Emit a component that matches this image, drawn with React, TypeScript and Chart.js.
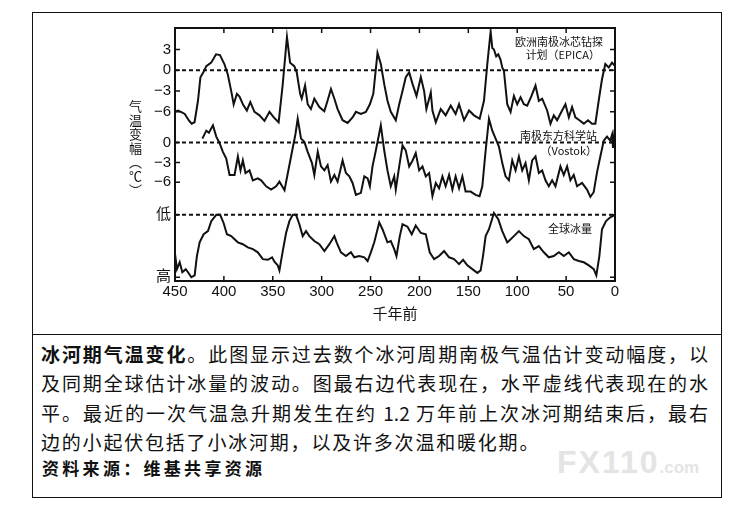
import React, { useEffect, useRef } from "react";
import { Chart, registerables } from "chart.js";

Chart.register(...registerables);

// ---- Data ----
const xTicks = [450, 400, 350, 300, 250, 200, 150, 100, 50, 0];
const epicaTicks = [3, 0, -3, -6];
const vostokTicks = [0, -3, -6];
const iceTickLabels = ["低", "高"];

// EPICA temperature anomaly (°C)
const epicaAge = [450, 447, 444, 440, 436, 433, 430, 426.5, 424, 421, 418, 413, 408, 404, 399.5, 396, 392.5, 390, 386.7, 384, 380.6, 376.5, 373, 368.7, 363.6, 358.5, 353.4, 349, 344, 339.8, 335.5, 332.3, 328, 325.5, 322, 320.4, 317, 314.3, 311, 307.5, 302.4, 297.3, 294, 290.5, 287, 283.7, 278.6, 273.5, 268.4, 265, 259.9, 254.8, 250.7, 247.2, 242.9, 239.5, 236, 232.7, 229.3, 224.2, 220.7, 217.3, 214, 210.5, 207, 203, 198.6, 195.2, 192.9, 188.4, 186.7, 183.3, 178.2, 173.2, 168, 163, 159.5, 154.4, 149.3, 144.2, 138.4, 134, 130.6, 127.2, 125.5, 123.8, 121.5, 119.4, 117, 115.3, 113.6, 110.2, 106.8, 103.4, 100, 96.6, 93.2, 89.8, 85.4, 81.3, 77.9, 74.5, 69.4, 66, 62.6, 59.2, 54.1, 50.7, 47.2, 43.9, 40.5, 36.4, 31.9, 27.6, 23.5, 20.1, 16.7, 13.3, 9.9, 6.4, 3.1, 0];
const epicaTemp = [-6.0, -5.8, -6.0, -6.3, -7.2, -7.7, -7.5, -4.4, -1.0, -0.3, 0.6, 1.1, 2.3, 2.2, 0.9, -0.6, -3.0, -4.9, -3.4, -3.8, -4.9, -5.8, -4.6, -6.0, -6.5, -7.3, -6.0, -6.8, -7.5, -2.0, 4.8, 1.1, 0.6, -0.3, -3.4, -4.1, -2.2, -4.9, -5.6, -4.1, -5.3, -5.9, -4.4, -2.7, -4.1, -5.6, -7.2, -7.6, -6.8, -6.0, -6.3, -6.0, -4.9, -3.4, 2.5, 0.9, -2.0, -4.4, -6.0, -7.2, -4.9, -3.0, -1.0, -0.3, -2.0, -3.7, -1.0, -3.0, -5.6, -3.2, -5.8, -7.5, -5.6, -6.5, -5.1, -6.3, -4.9, -7.2, -5.8, -6.5, -7.0, -4.4, 0.9, 5.6, 3.2, 3.0, 2.0, 2.3, 1.5, 0.4, -0.1, -4.9, -6.0, -3.7, -4.9, -3.9, -4.9, -5.1, -3.7, -2.2, -4.4, -4.1, -5.8, -7.7, -6.5, -7.2, -5.8, -4.9, -6.8, -5.3, -6.8, -7.2, -7.7, -7.2, -7.7, -7.7, -4.4, -1.3, 0.9, 0.4, 1.1, 0.6];

// Vostok temperature anomaly (°C)
const vostokAge = [422, 418, 415.3, 411.2, 407.8, 404.4, 401, 397.6, 394.2, 389.1, 385.7, 383, 380.6, 377.9, 373.8, 370.4, 365.3, 361.9, 356.8, 351.7, 346.6, 343.2, 338, 331.3, 326.8, 324.5, 321.1, 317.7, 314.3, 309.9, 307.5, 304, 300.7, 297.2, 293.9, 290.5, 287, 283.7, 278.6, 275.2, 271.7, 268.4, 265, 259.9, 256.4, 253, 250.7, 248, 244.6, 239.5, 236, 232.7, 229.3, 225.8, 224.2, 220.7, 217.3, 214, 210.5, 207, 203.8, 200.3, 196.9, 193.5, 190.1, 186.7, 183.3, 179.9, 176.5, 173.2, 169.7, 166.3, 163, 159.5, 156.1, 152.8, 147.7, 142.6, 138.5, 135.7, 132.3, 128.9, 125.5, 122.1, 118.7, 115.3, 111.9, 108.5, 105.1, 101.7, 98.3, 94.9, 91.5, 88.1, 84.7, 81.3, 77.9, 74.5, 71.1, 67.7, 64.3, 60.9, 55.8, 52.4, 49, 45.6, 42.2, 38.8, 33.7, 28.6, 25.2, 21.8, 18.4, 15, 11.5, 8.2, 4.8, 3, 2, 1, 0];
const vostokTemp = [0.6, 1.8, 1.5, 2.6, 0.9, -0.1, -1.4, -2.4, -4.9, -4.9, -2.1, -4.2, -2.7, -4.6, -4.2, -5.7, -5.4, -5.7, -6.6, -7.1, -6.6, -5.9, -7.2, -2.1, 1.3, 3.6, 0.6, 0.1, -1.4, -3.1, -4.9, -1.4, -3.6, -4.2, -3.4, -5.9, -4.9, -5.9, -2.7, -4.6, -5.1, -6.1, -7.9, -7.6, -5.1, -5.4, -6.6, -3.6, -1.2, 2.6, -1.2, -4.2, -6.6, -5.1, -7.1, -3.6, -0.4, -1.2, -3.6, -2.7, -1.6, -4.2, -3.6, -5.1, -4.6, -8.1, -6.1, -6.9, -5.1, -6.6, -4.9, -7.1, -5.1, -6.9, -5.1, -7.4, -7.4, -7.9, -8.1, -6.6, -1.2, 3.6, 1.8, 0.6, -0.6, -3.1, -5.1, -5.7, -2.7, -4.2, -2.1, -4.2, -3.1, -5.7, -2.7, -2.1, -4.6, -4.2, -5.7, -6.6, -5.7, -6.6, -3.6, -4.9, -3.6, -5.7, -4.9, -6.6, -6.1, -7.1, -8.2, -7.5, -4.5, -2.1, 0.3, 0.9, 0.3, 1.2, -0.8, 1.0, 0.2];

// Global ice volume (0 = low, 1 = high)
const iceAge = [450, 448, 445.2, 442.5, 439, 436.7, 433.3, 429.9, 427.6, 424.8, 420.7, 416.3, 412.9, 407.8, 403.8, 400.3, 396.9, 392.5, 389.1, 385.7, 380.6, 375.5, 370.4, 365.3, 360.2, 355.1, 350.7, 348.3, 344.9, 343.2, 339.8, 336.4, 333, 329.6, 326.2, 322.8, 319.4, 316, 312.6, 307.5, 302.4, 297.2, 292.1, 287, 284.7, 280.3, 275.2, 270.1, 266.7, 261.6, 256.4, 253, 249.7, 246.2, 241.1, 237.8, 232.7, 229.3, 225.8, 223.5, 220.1, 217.3, 212.2, 207.9, 203.8, 198.6, 193.5, 189.5, 185, 179.9, 174.8, 169.7, 164.6, 159.5, 155.4, 151, 145.9, 140.8, 137.4, 135, 132.3, 128.9, 123.8, 119.4, 115.3, 110.2, 108.5, 103.4, 98.3, 93.2, 88.1, 83, 77.9, 72.8, 67.7, 62.6, 57.4, 52.4, 47.2, 42.1, 37, 31.9, 26.8, 21.7, 19.1, 16, 13.3, 9.2, 4.8, 0];
const iceLevel = [0.62, 0.87, 0.76, 0.92, 0.87, 0.92, 1.0, 0.97, 0.66, 0.44, 0.31, 0.26, 0.1, 0.0, 0.0, 0.13, 0.31, 0.34, 0.39, 0.44, 0.47, 0.52, 0.55, 0.6, 0.71, 0.72, 0.68, 0.75, 0.81, 0.89, 0.58, 0.29, 0.1, 0.0, 0.0, 0.15, 0.34, 0.26, 0.34, 0.42, 0.47, 0.58, 0.47, 0.34, 0.44, 0.6, 0.66, 0.6, 0.68, 0.66, 0.68, 0.74, 0.6, 0.44, 0.12, 0.23, 0.44, 0.42, 0.55, 0.66, 0.34, 0.15, 0.19, 0.31, 0.17, 0.29, 0.31, 0.6, 0.71, 0.66, 0.58, 0.68, 0.71, 0.79, 0.72, 0.81, 0.87, 0.93, 0.89, 0.66, 0.34, 0.23, -0.03, 0.07, 0.26, 0.44, 0.42, 0.34, 0.26, 0.34, 0.39, 0.55, 0.5, 0.6, 0.68, 0.66, 0.6, 0.66, 0.6, 0.71, 0.74, 0.76, 0.81, 0.87, 0.97, 0.66, 0.23, 0.1, 0.04, 0.0];

// Present-day reference levels (dashed lines)
const presentLevels = { epica: 0, vostok: 0, ice: 0 };

// ---- Stacking of the three panels on one shared axis ----
const VOSTOK_SCALE = 0.955;
const VOSTOK_OFFSET = -10.43;
const ICE_TOP = -20.86;
const ICE_SPAN = 9.0;
const toEpica = (t: number) => t;
const toVostok = (t: number) => t * VOSTOK_SCALE + VOSTOK_OFFSET;
const toIce = (i: number) => ICE_TOP - i * ICE_SPAN;

const yTickValues = [
  ...epicaTicks.map(toEpica),
  ...vostokTicks.map(toVostok),
  toIce(0),
  toIce(1),
];
const yTickLabels = [
  ...epicaTicks.map((v) => (v < 0 ? "\u2212" + Math.abs(v) : String(v))),
  ...vostokTicks.map((v) => (v < 0 ? "\u2212" + Math.abs(v) : String(v))),
  ...iceTickLabels,
];

const frameTicks = {
  id: "frameTicks",
  afterDatasetsDraw(chart: any) {
    const { ctx, chartArea: a, scales } = chart;
    const x = scales.x;
    const y = scales.y;
    ctx.save();
    ctx.strokeStyle = "#111";
    ctx.lineWidth = 1.5;
    ctx.beginPath();
    for (const t of x.ticks) {
      const px = x.getPixelForValue(t.value);
      ctx.moveTo(px, a.bottom);
      ctx.lineTo(px, a.bottom - 5);
      ctx.moveTo(px, a.top);
      ctx.lineTo(px, a.top + 5);
    }
    for (const t of y.ticks) {
      const py = y.getPixelForValue(t.value);
      ctx.moveTo(a.left, py);
      ctx.lineTo(a.left + 5, py);
      ctx.moveTo(a.right, py);
      ctx.lineTo(a.right - 5, py);
    }
    ctx.stroke();
    ctx.lineWidth = 2;
    ctx.strokeRect(a.left, a.top, a.right - a.left, a.bottom - a.top);
    ctx.restore();
  },
};

function ChartCanvas() {
  const ref = useRef<HTMLCanvasElement | null>(null);
  useEffect(() => {
    if (!ref.current) return;
    const line = (ages: number[], vals: number[], map: (v: number) => number) =>
      ages.map((a, i) => ({ x: a, y: map(vals[i]) }));
    const dashed = (v: number) => ({
      data: [
        { x: 450, y: v },
        { x: 0, y: v },
      ],
      borderColor: "#111",
      borderWidth: 2,
      borderDash: [4, 3],
      pointRadius: 0,
    });
    const solid = (data: any[]) => ({
      data,
      borderColor: "#111",
      borderWidth: 2,
      pointRadius: 0,
      tension: 0,
    });
    const chart = new Chart(ref.current, {
      type: "line",
      data: {
        datasets: [
          dashed(toEpica(presentLevels.epica)),
          dashed(toVostok(presentLevels.vostok)),
          dashed(toIce(presentLevels.ice)),
          solid(line(epicaAge, epicaTemp, toEpica)),
          solid(line(vostokAge, vostokTemp, toVostok)),
          solid(line(iceAge, iceLevel, toIce)),
        ] as any,
      },
      options: {
        animation: false,
        responsive: true,
        maintainAspectRatio: false,
        layout: { padding: { top: 10, right: 25, bottom: 0, left: 0 } },
        plugins: { legend: { display: false }, tooltip: { enabled: false } },
        scales: {
          x: {
            type: "linear",
            min: 0,
            max: 450,
            reverse: true,
            afterBuildTicks: (s: any) => {
              s.ticks = xTicks.map((v) => ({ value: v }));
            },
            afterFit: (s: any) => {
              s.height = 49;
            },
            grid: { display: false, drawTicks: false },
            border: { display: false },
            ticks: {
              autoSkip: false,
              maxRotation: 0,
              padding: 2,
              color: "#111",
              font: { family: '"Liberation Sans", Arial, sans-serif', size: 15 },
            },
            title: {
              display: true,
              text: "千年前",
              color: "#111",
              font: { family: '"Noto Sans CJK SC", sans-serif', size: 15 },
              padding: { top: 0, bottom: 8 },
            },
          },
          y: {
            type: "linear",
            min: -30.4,
            max: 6.1,
            afterBuildTicks: (s: any) => {
              s.ticks = yTickValues.map((v) => ({ value: v }));
            },
            afterFit: (s: any) => {
              s.width = 75;
            },
            grid: { display: false, drawTicks: false },
            border: { display: false },
            ticks: {
              autoSkip: false,
              padding: 4,
              color: "#111",
              font: { family: '"Liberation Sans", "Noto Sans CJK SC", sans-serif', size: 15 },
              callback: (_v: any, i: number) => yTickLabels[i],
            },
          },
        },
      } as any,
      plugins: [frameTicks],
    });
    return () => chart.destroy();
  }, []);
  return <canvas ref={ref} />;
}

const abs = (s: React.CSSProperties): React.CSSProperties => ({ position: "absolute", ...s });

export default function App() {
  const cjk = '"Noto Sans CJK SC", sans-serif';
  const lineStyle = (top: number, justify: boolean): React.CSSProperties =>
    abs({
      left: 41,
      top,
      width: 667,
      fontSize: 19,
      lineHeight: "24px",
      whiteSpace: "nowrap",
      textAlign: justify ? "justify" : "left",
      textAlignLast: justify ? "justify" : "auto",
      letterSpacing: justify ? 0 : 1.8,
      color: "#111",
    } as React.CSSProperties);
  const note = (right: number, top: number): React.CSSProperties =>
    abs({ right, top, fontSize: 11, lineHeight: "13px", textAlign: "right", whiteSpace: "nowrap", color: "#111" });

  return (
    <div style={abs({ left: 0, top: 0, width: 741, height: 518, background: "#fff", fontFamily: cjk, overflow: "hidden" })}>
      <div style={abs({ left: 32, top: 12, width: 690, height: 486, border: "1.5px solid #111", boxSizing: "border-box" })} />
      <div style={abs({ left: 32, top: 334, width: 690, height: 0, borderTop: "1.5px solid #111" })} />
      <div style={abs({ left: 100, top: 15, width: 540, height: 315 })}>
        <ChartCanvas />
      </div>
      <div style={abs({ left: 128, top: 100, fontSize: 13, letterSpacing: 1, writingMode: "vertical-rl", color: "#111", lineHeight: "14px" } as React.CSSProperties)}>
        气温变幅（℃）
      </div>
      <div style={note(138, 35)}>欧洲南极冰芯钻探</div>
      <div style={note(141, 48)}>计划（EPICA）</div>
      <div style={note(144, 129)}>南极东方科学站</div>
      <div style={note(144, 144)}>（Vostok）</div>
      <div style={note(149, 222)}>全球冰量</div>

      <div style={lineStyle(342, true)}>
        <b>冰河期气温变化</b>。此图显示过去数个冰河周期南极气温估计变动幅度，以
      </div>
      <div style={lineStyle(371, true)}>及同期全球估计冰量的波动。图最右边代表现在，水平虚线代表现在的水</div>
      <div style={lineStyle(401, true)}>平。最近的一次气温急升期发生在约 1.2 万年前上次冰河期结束后，最右</div>
      <div style={lineStyle(430, false)}>边的小起伏包括了小冰河期，以及许多次温和暖化期。</div>
      <div style={abs({ left: 42, top: 457, fontSize: 17, lineHeight: "22px", fontWeight: 700, letterSpacing: 3.3, color: "#111", whiteSpace: "nowrap" })}>
        资料来源：维基共享资源
      </div>
      <div style={abs({ left: 557, top: 444, color: "#e4e4e4", fontFamily: '"Liberation Sans", Arial, sans-serif', fontWeight: 700, whiteSpace: "nowrap", lineHeight: "36px" })}>
        <span style={{ fontSize: 32, letterSpacing: 2 }}>FX110</span>
        <span style={{ fontSize: 17 }}>.com</span>
      </div>
    </div>
  );
}
